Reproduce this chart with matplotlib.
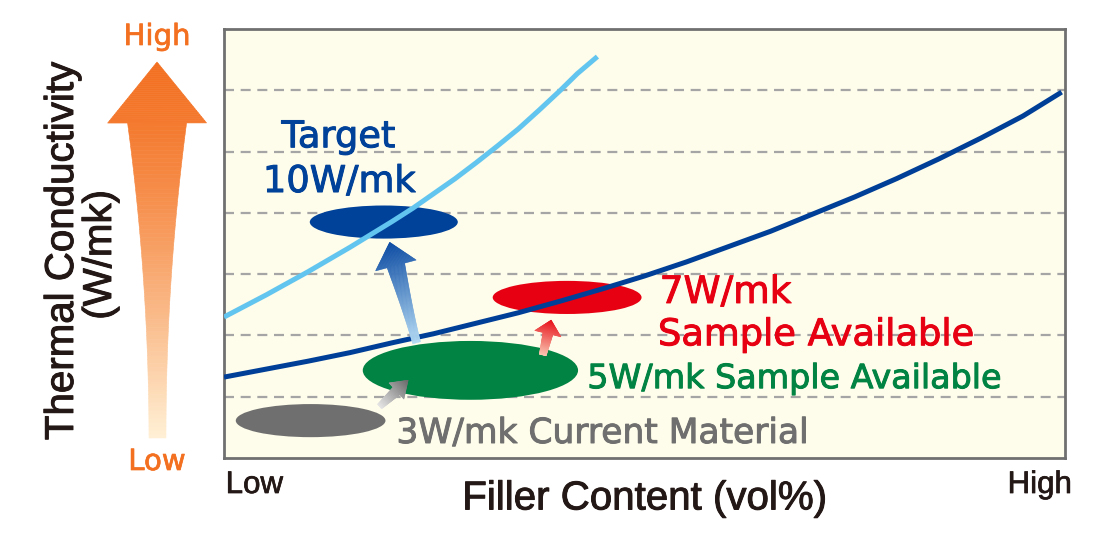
import numpy as np
import matplotlib
matplotlib.use('Agg')
import matplotlib.pyplot as plt
import matplotlib.patheffects as pe
from matplotlib.patches import Ellipse, Polygon
from matplotlib.colors import to_rgb

# trend curves (x = filler content 0..100, y = conductivity level 0..7)
x_dark = [0, 5, 10, 15, 20, 25, 30, 35, 40, 45, 50, 55, 60, 65, 70, 75, 80, 85, 90, 95, 99.6]
y_dark = [1.32, 1.45, 1.58, 1.72, 1.88, 2.03, 2.20, 2.37, 2.56, 2.76, 2.97, 3.20, 3.45,
          3.70, 3.98, 4.26, 4.56, 4.88, 5.22, 5.58, 5.97]
x_light = [0, 2.5, 5, 7.5, 10, 12.5, 15, 17.5, 20, 22.5, 25, 27.5, 30, 32.5, 35, 37.5, 40, 42, 44.4]
y_light = [2.30, 2.48, 2.66, 2.85, 3.04, 3.24, 3.44, 3.65, 3.86, 4.08, 4.32, 4.56, 4.82,
           5.09, 5.37, 5.68, 6.00, 6.27, 6.55]

# material blobs
levels = ['3W/mk', '5W/mk', '7W/mk', '10W/mk']
filler = [10.3, 29.3, 40.8, 19.0]
conductivity = [0.61, 1.43, 2.62, 3.85]
spread_x = [17.8, 25.6, 17.7, 17.6]
spread_y = [0.54, 0.96, 0.54, 0.54]
blob_colors = ['#6f6f6f', '#008343', '#e60012', '#00419a']

# step arrows between blobs (data coords)
arrow_from = [(18.5, 0.84), (37.9, 1.68), (22.9, 1.88)]
arrow_to = [(21.9, 1.27), (38.9, 2.25), (19.7, 3.52)]

x_ends = [0, 100]
x_end_labels = ['Low', 'High']

W, H = 1115, 540
fig = plt.figure(figsize=(W / 100, H / 100), dpi=100)
ax = fig.add_axes([224 / W, 1 - 458 / H, (1065 - 224) / W, (458 - 29) / H])
ax.set_facecolor('#fefcea')
for s in ax.spines.values():
    s.set_color('#707070')
    s.set_linewidth(2)
ax.set_xlim(0, 100)
ax.set_ylim(0, 7)
ax.set_yticks(range(1, 7))
ax.set_xticks([])
ax.tick_params(axis='y', length=0, labelleft=False)
ax.yaxis.grid(True, color='#a5a5a5', lw=1.6, ls=(0, (4.5, 3)))
ax.set_axisbelow(True)


def bold(c, w=0.7):
    return [pe.withStroke(linewidth=w, foreground=c)]


# Low / High at the ends of the x axis
for xv, lab, ha, dx in zip(x_ends, x_end_labels, ['left', 'right'], [0.2, 0.8]):
    ax.text(xv + dx, -0.028, lab, transform=ax.get_xaxis_transform(), ha=ha, va='top',
            fontsize=22.5, family='Liberation Sans', color='#231815',
            path_effects=bold('#231815', 0.5), clip_on=False)
ax.set_xlabel('Filler Content (vol%)', fontsize=29, family='Liberation Sans', color='#231815',
              path_effects=bold('#231815'))
ax.xaxis.set_label_coords(0.5, -0.05)

for fx, cy, wx, hy, c in zip(filler, conductivity, spread_x, spread_y, blob_colors):
    ax.add_patch(Ellipse((fx, cy), wx, hy, facecolor=c, edgecolor='none', zorder=2))

ax.plot(x_light, y_light, color='#62c5ef', lw=3.6, solid_capstyle='butt', solid_joinstyle='round', zorder=3)
ax.plot(x_dark, y_dark, color='#003f98', lw=3.6, solid_capstyle='butt', solid_joinstyle='round', zorder=3)

tf = dict(family='DejaVu Sans', zorder=5)
ax.text(13.6, 5.07, 'Target', fontsize=26.5, color='#00419a', ha='center', va='baseline',
        path_effects=bold('#00419a'), **tf)
ax.text(13.7, 4.34, '10W/mk', fontsize=26.5, color='#00419a', ha='center', va='baseline',
        path_effects=bold('#00419a'), **tf)
ax.text(51.8, 2.53, '7W/mk', fontsize=27, color='#e60012', ha='left', va='baseline',
        path_effects=bold('#e60012'), **tf)
ax.text(51.6, 1.84, 'Sample Available', fontsize=26.5, color='#e60012', ha='left', va='baseline',
        path_effects=bold('#e60012'), **tf)
ax.text(43.2, 1.14, '5W/mk Sample Available', fontsize=24, color='#008343', ha='left', va='baseline',
        path_effects=bold('#008343'), **tf)
ax.text(20.5, 0.245, '3W/mk Current Material', fontsize=24.8, color='#6f6f6f', ha='left', va='baseline',
        path_effects=bold('#6f6f6f'), **tf)

# overlay in image pixels for the decorative arrows and outer labels
ov = fig.add_axes([0, 0, 1, 1])
ov.set_xlim(0, W)
ov.set_ylim(H, 0)
ov.axis('off')


def to_px(p):
    return ov.transData.inverted().transform(ax.transData.transform(p))


def grad_arrow(tail, tip, w_tail, w_neck, head_w, head_len, c_tail, c_tip,
               power=1.0, gamma=1.0, n=80, m=30):
    tail = np.asarray(tail, float)
    tip = np.asarray(tip, float)
    d = tip - tail
    L = np.hypot(*d)
    u = d / L
    nv = np.array([-u[1], u[0]])
    neck = (L - head_len) / L
    c0 = np.array(to_rgb(c_tail))
    c1 = np.array(to_rgb(c_tip))

    def col(s):
        f = 1 - (1 - s) ** gamma
        return tuple(np.clip(c0 + (c1 - c0) * f, 0, 1))

    def piece(s0, s1, h0, h1):
        p0 = tail + d * s0
        p1 = tail + d * s1
        pts = [p0 + nv * h0, p1 + nv * h1, p1 - nv * h1, p0 - nv * h0]
        c = col((s0 + s1) / 2)
        ov.add_patch(Polygon(pts, closed=True, facecolor=c, edgecolor=c, lw=0.4))

    ss = np.linspace(0, neck, n + 1)
    for a, b in zip(ss[:-1], ss[1:]):
        ha = (w_tail + (w_neck - w_tail) * (a / neck) ** power) / 2
        hb = (w_tail + (w_neck - w_tail) * (b / neck) ** power) / 2
        piece(a, b, ha, hb)
    hs = np.linspace(neck, 1, m + 1)
    for a, b in zip(hs[:-1], hs[1:]):
        ha = head_w / 2 * (1 - a) / (1 - neck)
        hb = head_w / 2 * (1 - b) / (1 - neck)
        piece(a, b, ha, hb)


# big orange axis arrow
grad_arrow((157.5, 438), (157, 62), 17, 59, 99, 61, '#fff1d6', '#f37021', power=2, gamma=1.4)

# step arrows
grad_arrow(to_px(arrow_from[0]), to_px(arrow_to[0]), 6, 10, 22, 16, '#e8e8e8', '#6b6b6b')
grad_arrow(to_px(arrow_from[1]), to_px(arrow_to[1]), 7, 10, 27, 14, '#f9c8b4', '#e8141c')
grad_arrow(to_px(arrow_from[2]), to_px(arrow_to[2]), 8, 18, 42, 24, '#b5dcf5', '#0a4aa3', power=1.5)

ov.text(157, 37, 'High', fontsize=21, color='#f37021', ha='center', va='center', family='DejaVu Sans',
        path_effects=bold('#f37021', 0.5))
ov.text(157, 462, 'Low', fontsize=21, color='#f37021', ha='center', va='center', family='DejaVu Sans',
        path_effects=bold('#f37021', 0.5))
ov.text(62, 251, 'Thermal Conductivity', fontsize=29, rotation=90, ha='center', va='center',
        family='Liberation Sans', color='#231815', path_effects=bold('#231815'))
ov.text(100, 255, '(W/mk)', fontsize=29, rotation=90, ha='center', va='center',
        family='Liberation Sans', color='#231815', path_effects=bold('#231815'))

fig.savefig('out.png', dpi=100, facecolor='white')
